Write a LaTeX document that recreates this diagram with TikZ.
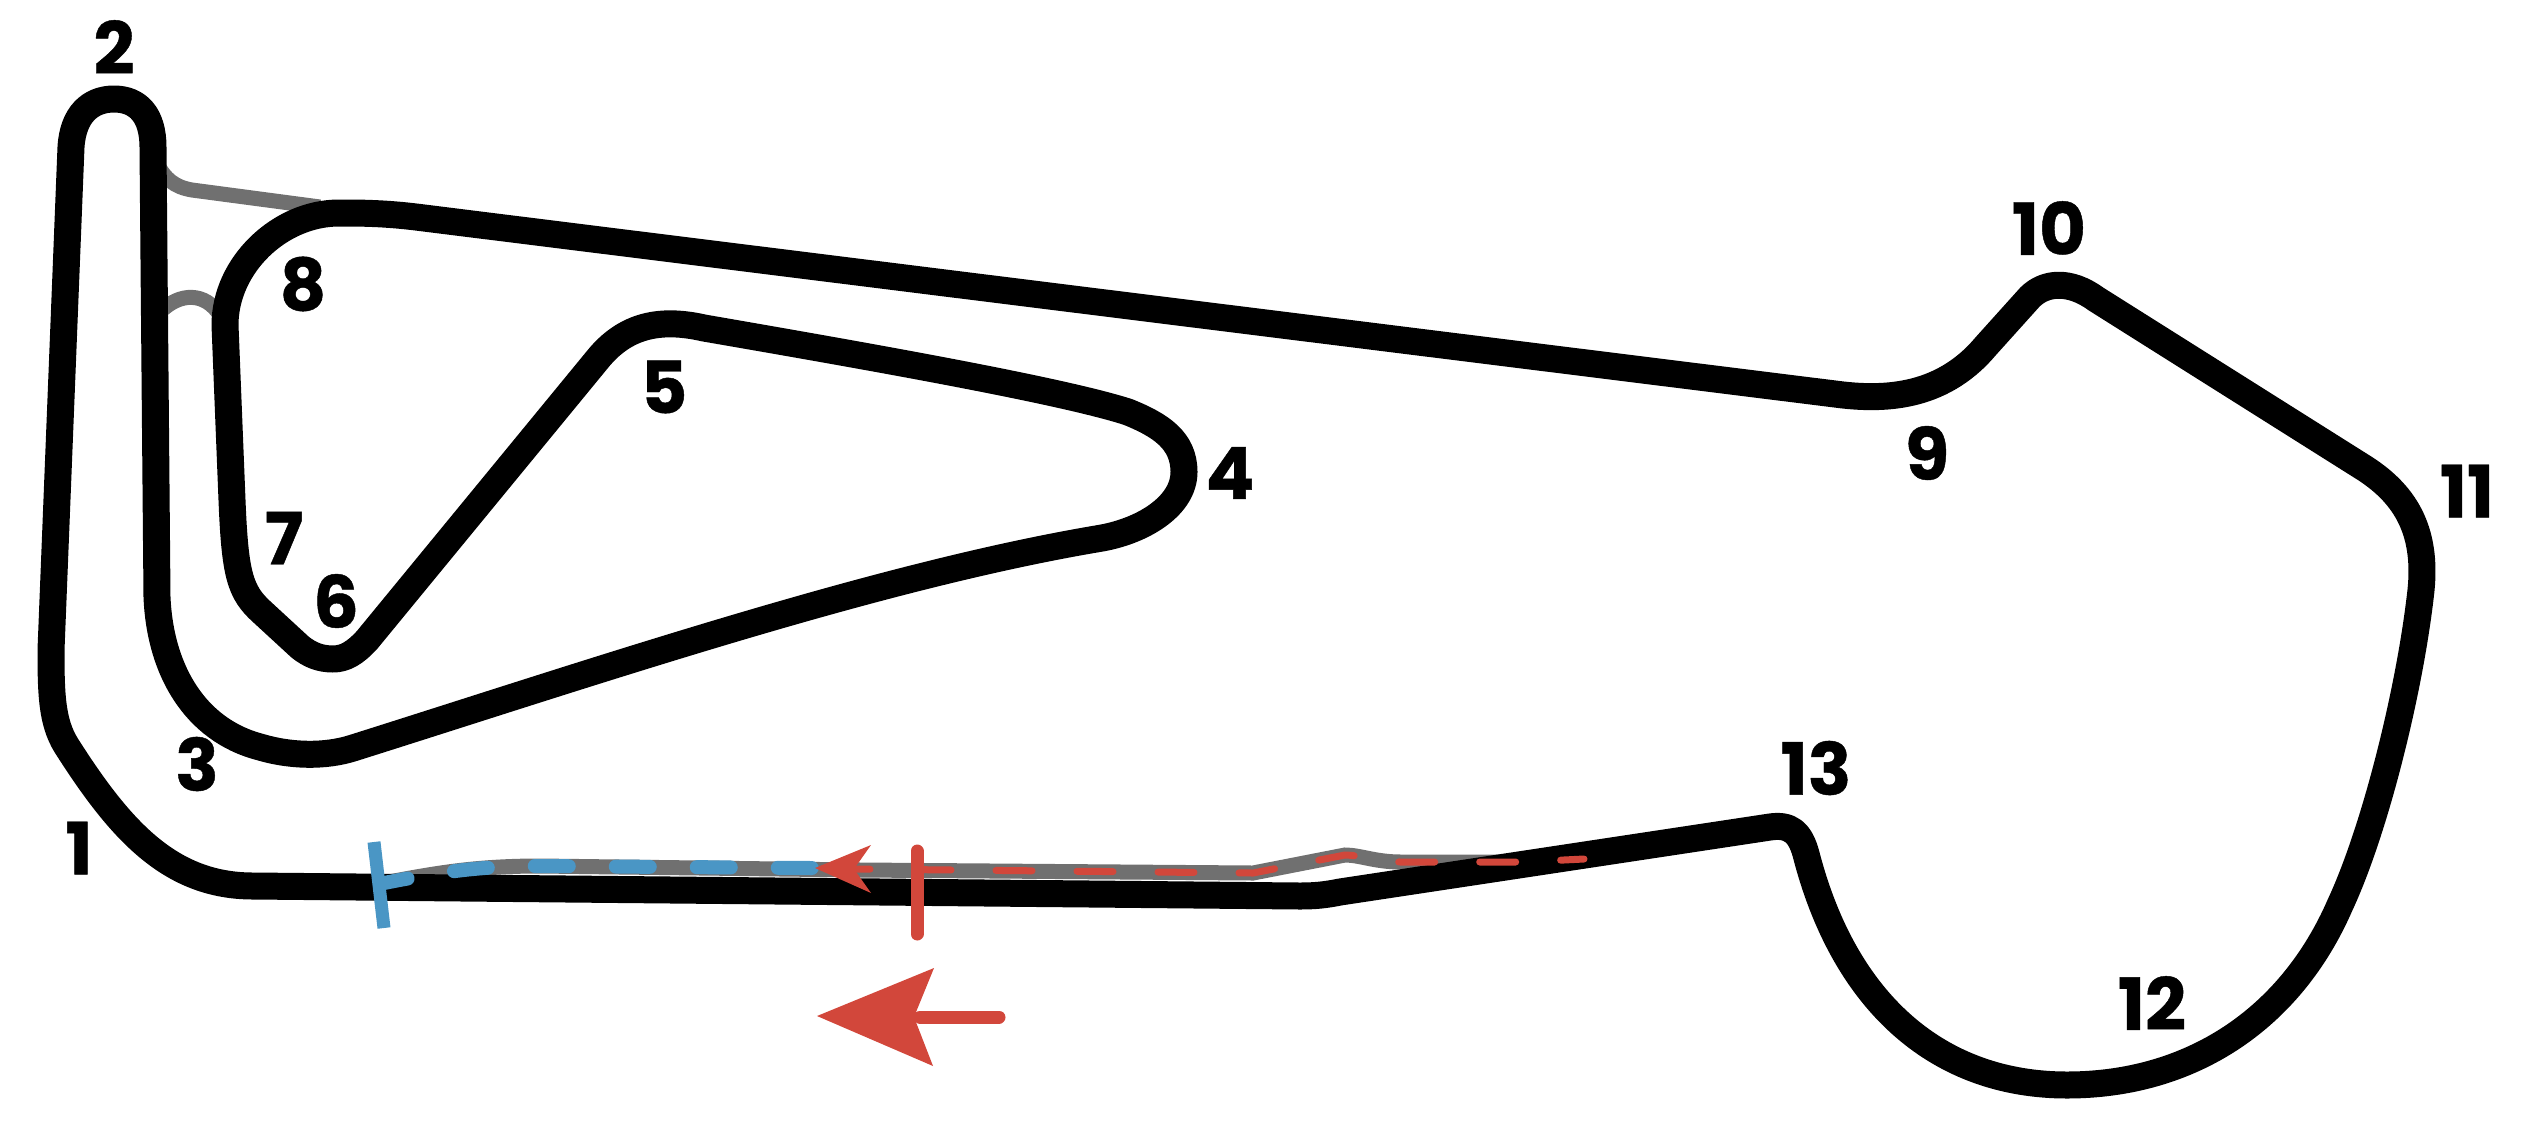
\documentclass[tikz,border=0pt]{standalone}
\usepackage{fontspec}
\newfontfamily\turnfont{Poppins}[BoldFeatures={FakeBold=0.6}]
\definecolor{startblue}{HTML}{4A96C5}
\definecolor{finishred}{HTML}{D2473B}
\definecolor{pitgray}{HTML}{707070}
\tikzset{
  track/.style={line width=27pt,line join=round},
  pit/.style={line width=15pt,pitgray},
  startline/.style={line width=13pt,startblue},
  finishline/.style={line width=13pt,finishred,line cap=round},
  bluelane/.style={line width=14pt,startblue,line cap=round,dash pattern=on 34pt off 47pt,dash phase=10pt},
  redlane/.style={line width=7pt,finishred,line cap=round,dash pattern=on 36pt off 45pt,dash phase=20pt},
  turn/.style={font=\turnfont\bfseries\fontsize{72}{72}\selectfont,inner sep=0pt,text=black}
}
\begin{document}
\begin{tikzpicture}[x=1pt,y=-1pt]
  \useasboundingbox (0,0) rectangle (2529,1120);

  % pit lane and the short links
  \draw [pit] (155,160) .. controls (165,180) and (175,187) .. (192,190) -- (320,207);
  \draw [pit] (160,312) .. controls (180,292) and (205,292) .. (220,315);
  \draw [pit] (384,883) .. controls (440,872) and (480,866) .. (540,866) -- (861,870)
    -- (1253,873) -- (1345,855) .. controls (1360,855) and (1375,862) .. (1401,862) -- (1530,862);

  % main circuit
  \draw [track] (1300,896) -- (253,886)
    .. controls (170,886) and (120,830) .. (66,745)
    .. controls (52,722) and (51,695) .. (51,650)
    -- (71,147)
    .. controls (73,115) and (90,99) .. (114,99)
    .. controls (138,99) and (153,115) .. (153,147)
    -- (157,597)
    .. controls (160,670) and (195,730) .. (260,747)
    .. controls (290,756) and (325,757) .. (353,748)
    .. controls (600,670) and (880,575) .. (1102,538)
    .. controls (1145,530) and (1184,505) .. (1184,472)
    .. controls (1184,440) and (1160,425) .. (1128,412)
    .. controls (1060,390) and (860,355) .. (704,328)
    .. controls (660,318) and (625,325) .. (597,360)
    -- (367,640)
    .. controls (355,653) and (345,659) .. (333,659)
    .. controls (320,659) and (310,655) .. (300,647)
    -- (262,612)
    .. controls (240,592) and (235,575) .. (232,500)
    -- (225,325)
    .. controls (225,265) and (280,213) .. (339,213)
    .. controls (360,213) and (385,213) .. (420,217.5)
    -- (1835,394)
    .. controls (1880,400) and (1940,400) .. (1985,347)
    -- (2030,297)
    .. controls (2045,282) and (2070,280) .. (2096,299)
    -- (2361,466)
    .. controls (2405,493) and (2427,530) .. (2421,590)
    .. controls (2410,690) and (2375,830) .. (2340,905)
    .. controls (2290,1020) and (2190,1085) .. (2067,1085)
    .. controls (1940,1085) and (1845,1005) .. (1806,854)
    .. controls (1800,832) and (1790,824) .. (1770,827)
    -- (1340,892)
    .. controls (1325,895) and (1315,896) .. (1300,896) -- cycle;

  % start and finish marks
  \draw [bluelane] (384,883) .. controls (440,872) and (480,866) .. (540,866) -- (812,868);
  \draw [startline] (374,842) -- (384,928);
  \draw [redlane] (854,869) -- (1253,873) -- (1345,855) .. controls (1360,855) and (1375,862) .. (1401,862)
    -- (1523,862) -- (1584,859);
  \draw [finishline] (917,851) -- (917,934);
  \fill [finishred] (815,868) -- (871,845) -- (854,869) -- (871,893) -- cycle;

  % direction arrow
  \draw [line width=13pt,finishred,line cap=round] (920,1017) -- (999,1017);
  \fill [finishred] (817,1016) -- (934,968) -- (914,1017) -- (933,1066) -- cycle;

  % corner numbers
  \node [turn] (t1) at (79,848) {1};
  \node [turn] (t2) at (114,47) {2};
  \node [turn] (t3) at (197,764) {3};
  \node [turn] (t4) at (1230,473) {4};
  \node [turn] (t5) at (664,387) {5};
  \node [turn] (t6) at (336,601) {6};
  \node [turn] (t7) at (284,538) {7};
  \node [turn] (t8) at (303,284) {8};
  \node [turn] (t9) at (1927,453) {9};
  \node [turn] (t10) at (2049,228) {10};
  \node [turn] (t11) at (2467,491) {11};
  \node [turn] (t12) at (2152,1003) {12};
  \node [turn] (t13) at (1816,768) {13};
\end{tikzpicture}
\end{document}
